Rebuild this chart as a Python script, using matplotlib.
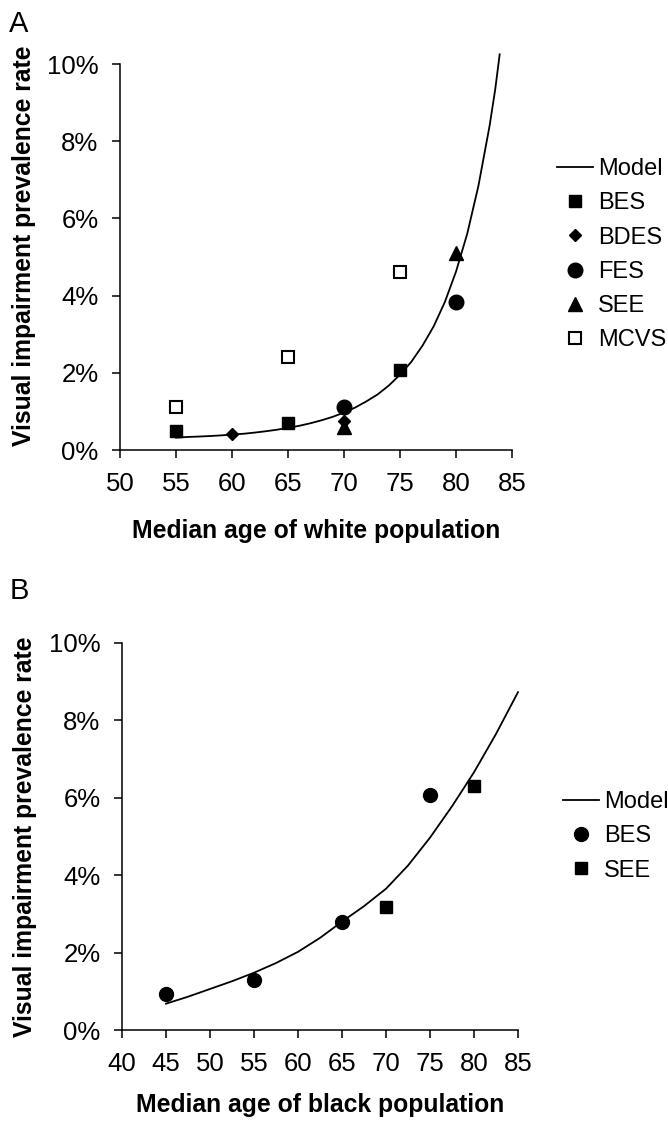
import matplotlib
matplotlib.use('Agg')
import matplotlib.pyplot as plt
from matplotlib.ticker import FuncFormatter

plt.rcParams['font.family'] = ['Liberation Sans', 'DejaVu Sans']

# ---- Panel A: white population ----
a_model_age = [55, 56, 57, 58, 59, 60, 61, 62, 63, 64, 65, 66, 67, 68, 69, 70,
               71, 72, 73, 74, 75, 76, 77, 78, 79, 80, 81, 82, 83, 83.5, 83.9]
a_model_rate = [0.32, 0.337, 0.348, 0.361, 0.378, 0.40, 0.42, 0.45, 0.485, 0.525, 0.572,
                0.627, 0.693, 0.77, 0.86, 0.97, 1.10, 1.26, 1.44, 1.67, 1.95, 2.28,
                2.70, 3.20, 3.83, 4.62, 5.60, 6.84, 8.40, 9.34, 10.25]

a_bes_age = [55, 65, 75]
a_bes_rate = [0.49, 0.69, 2.06]
a_bdes_age = [60, 70]
a_bdes_rate = [0.42, 0.76]
a_fes_age = [70, 80]
a_fes_rate = [1.11, 3.83]
a_see_age = [70, 80]
a_see_rate = [0.60, 5.10]
a_mcvs_age = [55, 65, 75]
a_mcvs_rate = [1.11, 2.42, 4.62]

# ---- Panel B: black population ----
b_model_age = [45, 47.5, 50, 52.5, 55, 57.5, 60, 62.5, 65, 67.5, 70, 72.5, 75, 77.5, 80, 82.5, 85]
b_model_rate = [0.68, 0.86, 1.06, 1.26, 1.48, 1.73, 2.02, 2.38, 2.80, 3.20, 3.65, 4.25, 4.97, 5.78, 6.66, 7.65, 8.73]

b_bes_age = [45, 55, 65, 75]
b_bes_rate = [0.93, 1.28, 2.78, 6.07]
b_see_age = [70, 80]
b_see_rate = [3.17, 6.30]

y_ticks = [0, 2, 4, 6, 8, 10]
a_x_ticks = [50, 55, 60, 65, 70, 75, 80, 85]
b_x_ticks = [40, 45, 50, 55, 60, 65, 70, 75, 80, 85]

W, H = 668, 1128
fig = plt.figure(figsize=(W / 100, H / 100), dpi=100)
fig.patch.set_facecolor('white')


def px_axes(left, top, right, bottom):
    return fig.add_axes([left / W, 1 - bottom / H, (right - left) / W, (bottom - top) / H])


def style_axes(ax, xlim, xticks, xlabel, xlab_y, ylab_y):
    ax.set_xlim(*xlim)
    ax.set_ylim(0, 10)
    ax.set_xticks(xticks)
    ax.set_yticks(y_ticks)
    ax.yaxis.set_major_formatter(FuncFormatter(lambda v, p: f'{v:.0f}%'))
    for s in ['top', 'right']:
        ax.spines[s].set_visible(False)
    for s in ['left', 'bottom']:
        ax.spines[s].set_linewidth(1.1)
    ax.tick_params(direction='out', length=6, width=1.1, labelsize=18.5)
    ax.tick_params(axis='x', pad=10)
    ax.tick_params(axis='y', pad=9.5)
    ax.set_xlabel(xlabel, fontsize=17.8, fontweight='bold')
    ax.xaxis.label.set_va('center')
    ax.xaxis.set_label_coords(0.5, xlab_y)
    ax.set_ylabel('Visual impairment prevalence rate', fontsize=17.8, fontweight='bold')
    ax.yaxis.label.set_va('center')
    ax.yaxis.set_label_coords(-0.245, ylab_y)
    ax.patch.set_alpha(0)


leg_kw = dict(bbox_transform=fig.transFigure, loc='upper left', frameon=False, fontsize=17,
              handlelength=1.53, handletextpad=0.22, labelspacing=0.52,
              borderpad=0, borderaxespad=0)

# Panel A
axA = px_axes(120, 64, 512, 450)
style_axes(axA, (50, 85), a_x_ticks, 'Median age of white population', -0.21, 0.53)
axA.plot(a_model_age, a_model_rate, color='black', lw=1.3, label='Model', clip_on=False)
axA.plot(a_bes_age, a_bes_rate, 's', color='black', ms=9, ls='none', label='BES')
axA.plot(a_bdes_age, a_bdes_rate, 'D', color='black', ms=6.5, ls='none', label='BDES')
axA.plot(a_fes_age, a_fes_rate, 'o', color='black', ms=10.5, ls='none', label='FES')
axA.plot(a_see_age, a_see_rate, '^', color='black', ms=10, ls='none', label='SEE')
axA.plot(a_mcvs_age, a_mcvs_rate, 's', mfc='white', mec='black', mew=1.5, ms=9, ls='none', label='MCVS')
axA.legend(bbox_to_anchor=(557 / W, 1 - 158 / H), **leg_kw)

# Panel B
axB = px_axes(122, 643, 518, 1030)
style_axes(axB, (40, 85), b_x_ticks, 'Median age of black population', -0.193, 0.50)
axB.plot(b_model_age, b_model_rate, color='black', lw=1.3, label='Model', clip_on=False)
axB.plot(b_bes_age, b_bes_rate, 'o', color='black', ms=10, ls='none', label='BES')
axB.plot(b_see_age, b_see_rate, 's', color='black', ms=9, ls='none', label='SEE')
axB.legend(bbox_to_anchor=(563 / W, 1 - 791 / H), **leg_kw)

fig.text(9 / W, 1 - 10 / H, 'A', fontsize=21, va='top', ha='left')
fig.text(10 / W, 1 - 577 / H, 'B', fontsize=21, va='top', ha='left')

fig.savefig('out.png', dpi=100)
